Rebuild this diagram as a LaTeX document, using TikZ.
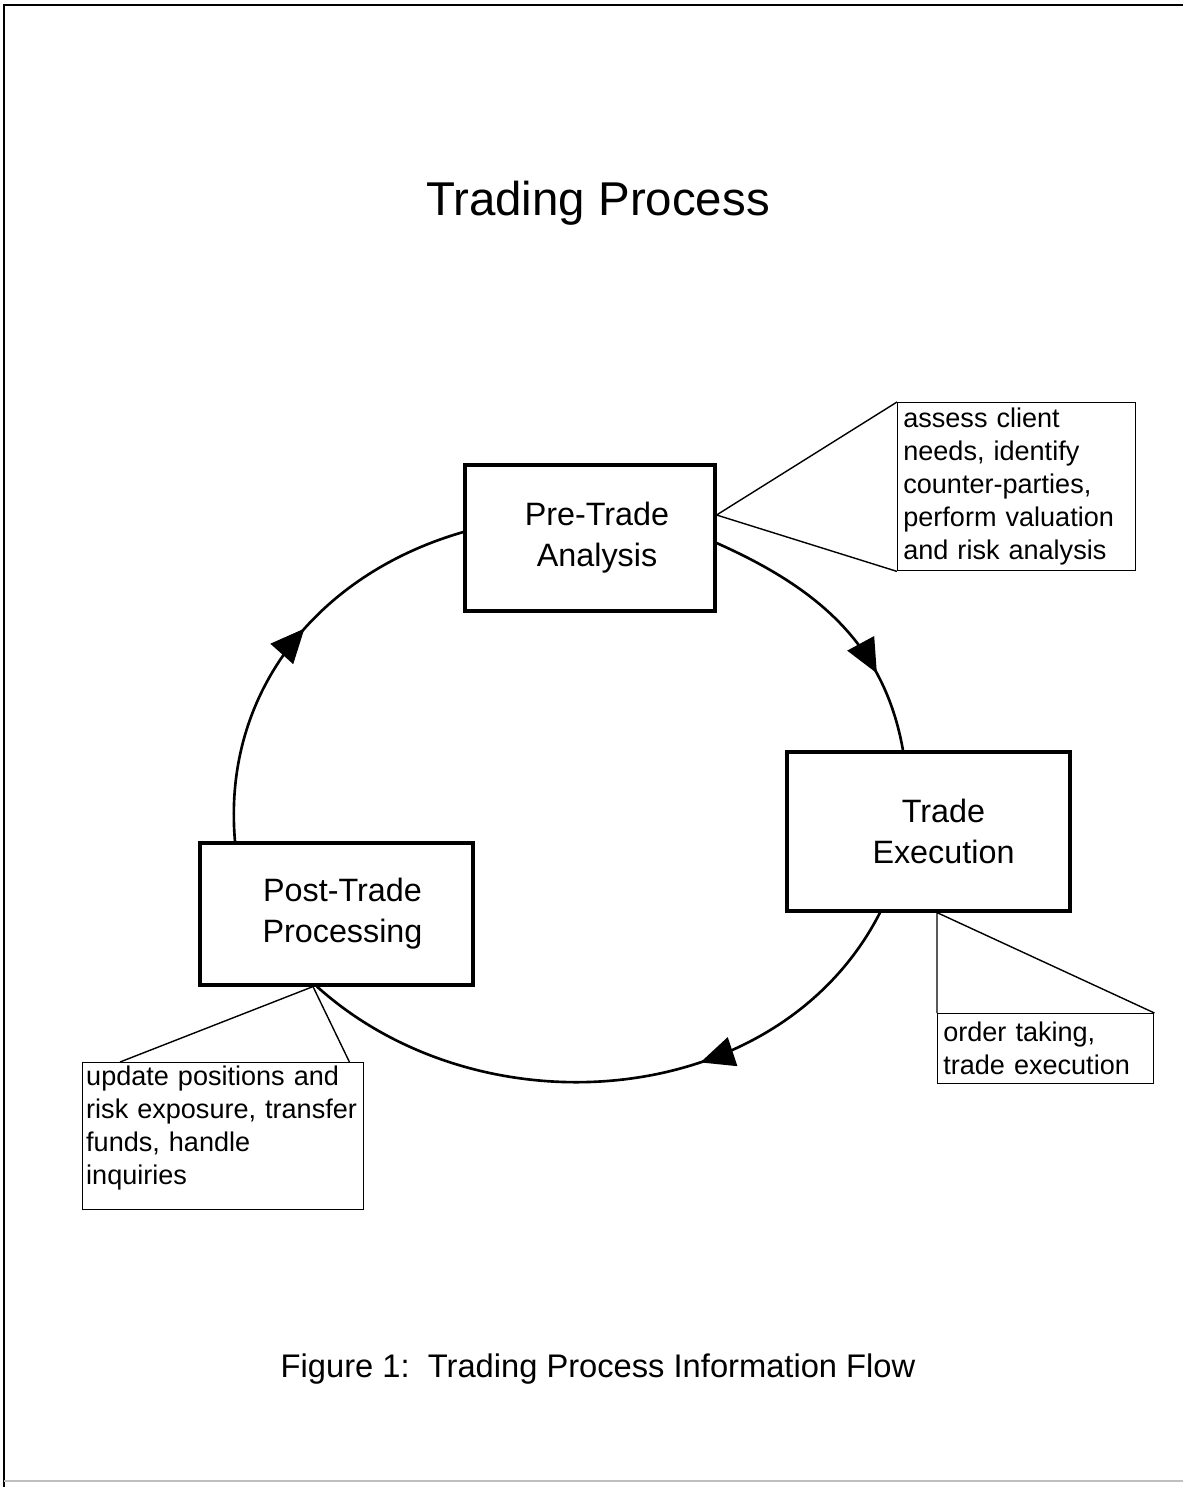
\documentclass[tikz,border=0pt]{standalone}
\usepackage{fontspec}
\setmainfont{Liberation Sans}
\usetikzlibrary{arrows.meta,decorations.markings}

\begin{document}
\begin{tikzpicture}[
        etapa/.style={draw, line width=0.9pt, align=center, font=\fontsize{9.2}{11.7}\selectfont},
        nota/.style={draw, line width=0.4pt, align=left, anchor=north west, inner xsep=1.6pt, inner ysep=1pt, font=\fontsize{7.7}{9.4}\selectfont},
        globo/.style={line width=0.4pt},
        flecha/.style={line width=0.75pt, postaction={decorate}, decoration={markings, mark=at position #1 with {\arrow{Triangle[length=3.4mm,width=3mm]}}}}
    ]
        \useasboundingbox (0,0) rectangle (11.83,-14.87);
        % marco
        \draw[line width=0.8pt] (0.04,-14.87) -- (0.04,-0.05) -- (11.83,-0.05);
        \draw[black!25, line width=0.6pt] (0.04,-14.81) -- (11.83,-14.81);

        \node (titulo) at (5.98,-2.03) {\fontsize{13.5}{16}\selectfont Trading Process};

        \node[etapa, minimum width=2.5cm, minimum height=1.46cm] (pre) at (5.90,-5.38) {\hspace*{0.14cm}Pre-Trade\\\hspace*{0.14cm}Analysis};
        \node[etapa, minimum width=2.83cm, minimum height=1.59cm] (exe) at (9.285,-8.315) {\hspace*{0.3cm}Trade\\\hspace*{0.3cm}Execution};
        \node[etapa, minimum width=2.73cm, minimum height=1.42cm] (post) at (3.365,-9.14) {\hspace*{0.12cm}Post-Trade\\\hspace*{0.12cm}Processing};

        % notas
        \node[nota, text width=2.268cm, minimum height=1.68cm] (n1) at (8.97,-4.02) {assess client\\needs, identify\\counter-parties,\\perform valuation\\and risk analysis};
        \node[nota, text width=2.048cm, minimum height=0.70cm] (n2) at (9.37,-10.13) {order taking,\\trade execution};
        \node[nota, inner xsep=1pt, text width=2.74cm, text depth=1.2cm] (n3) at (0.82,-10.62) {update positions and\\risk exposure, transfer\\funds, handle\\inquiries};

        \coordinate (p1) at ([yshift=0.23cm]pre.east);
        \coordinate (p2) at (n2.north west |- exe.south);
        \coordinate (p3) at ([xshift=-0.235cm]post.south);
        \draw[globo] (n1.north west) -- (p1) -- (n1.south west);
        \draw[globo] (n2.north west) -- (p2) -- (n2.north east);
        \draw[globo] ([xshift=0.38cm]n3.north west) -- (p3) -- ([xshift=-0.15cm]n3.north east);

        % ciclo
        \draw[flecha=0.72] ([yshift=-0.05cm]pre.east) to[out=-24, in=100] ([xshift=-0.255cm]exe.north);
        \draw[flecha=0.37] ([xshift=-0.485cm]exe.south) to[out=-117, in=-42] ([xshift=-0.195cm]post.south);
        \draw[flecha=0.55] ([xshift=-1.015cm]post.north) to[out=95, in=-164] ([yshift=0.06cm]pre.west);

        \node (pie) at (5.98,-13.69) {\fontsize{9.3}{11}\selectfont Figure 1:~~Trading Process Information Flow};
    \end{tikzpicture}
\end{document}
